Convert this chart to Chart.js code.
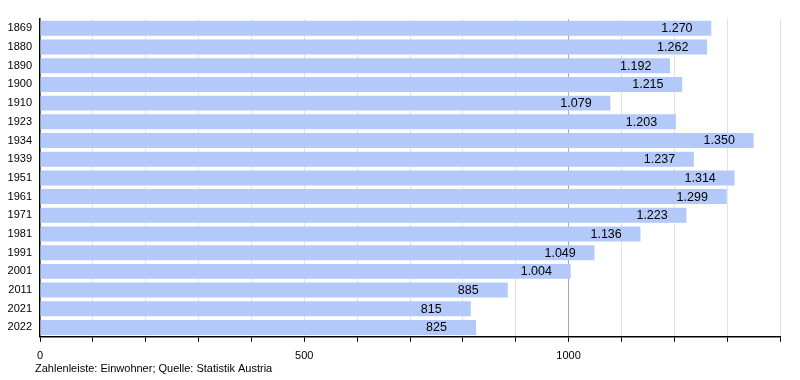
<!DOCTYPE html>
<html>
<head>
<meta charset="utf-8">
<script src="https://cdn.jsdelivr.net/npm/chart.js@4/dist/chart.umd.min.js"></script>
<style>
html,body{margin:0;padding:0;background:#fff;}
#wrap{width:800px;height:380px;position:relative;}
</style>
</head>
<body>
<div id="wrap"><canvas id="c" width="800" height="380"></canvas></div>
<script>
const years = ['1869','1880','1890','1900','1910','1923','1934','1939','1951','1961','1971','1981','1991','2001','2011','2021','2022'];
const population = [1270,1262,1192,1215,1079,1203,1350,1237,1314,1299,1223,1136,1049,1004,885,815,825];
const xTickLabels = [0,500,1000];
const footerText = 'Zahlenleiste: Einwohner; Quelle: Statistik Austria';

const fmt = v => {
  const s = String(v);
  return s.length > 3 ? s.slice(0, s.length-3) + '.' + s.slice(-3) : s;
};

const valueLabels = {
  id: 'valueLabels',
  afterDatasetsDraw(chart) {
    const ctx = chart.ctx;
    const meta = chart.getDatasetMeta(0);
    ctx.save();
    ctx.font = '12.5px "Liberation Sans", Arial, sans-serif';
    ctx.fillStyle = '#000';
    ctx.textAlign = 'left';
    ctx.textBaseline = 'middle';
    meta.data.forEach((bar, i) => {
      ctx.fillText(fmt(population[i]), bar.x - 50, bar.y + 0.5);
    });
    ctx.restore();
  }
};

const footer = {
  id: 'footer',
  afterDraw(chart) {
    const ctx = chart.ctx;
    ctx.save();
    ctx.font = '11px "Liberation Sans", Arial, sans-serif';
    ctx.fillStyle = '#000';
    ctx.textAlign = 'left';
    ctx.textBaseline = 'middle';
    ctx.fillText(footerText, 35, 369);
    ctx.restore();
  }
};

new Chart(document.getElementById('c'), {
  type: 'bar',
  data: {
    labels: years,
    datasets: [{
      data: population,
      backgroundColor: '#b3c9fa',
      borderWidth: 0,
      barPercentage: 0.8,
      categoryPercentage: 1.0
    }]
  },
  options: {
    indexAxis: 'y',
    responsive: false,
    animation: false,
    layout: { padding: { top: 19, right: 20, bottom: 9, left: 0 } },
    plugins: { legend: { display: false }, tooltip: { enabled: false } },
    scales: {
      x: {
        min: 0, max: 1400,
        ticks: {
          stepSize: 100,
          autoSkip: false,
          maxRotation: 0,
          color: '#000',
          font: { size: 11, family: '"Liberation Sans", Arial, sans-serif' },
          padding: 8,
          callback: (v) => xTickLabels.includes(v) ? String(v) : ''
        },
        grid: {
          color: (c) => c.tick && c.tick.value === 1000 ? '#a8a8a8' : '#e2e2e2',
          tickColor: '#000',
          tickLength: 5,
          drawTicks: true
        },
        border: { color: '#000', width: 1.5 }
      },
      y: {
        afterFit: (s) => { s.width = 40; },
        ticks: {
          color: '#000',
          font: { size: 11, family: '"Liberation Sans", Arial, sans-serif' },
          padding: 8
        },
        grid: { display: false, drawTicks: false },
        border: { color: '#000', width: 1.5 }
      }
    }
  },
  plugins: [valueLabels, footer]
});
</script>
</body>
</html>
